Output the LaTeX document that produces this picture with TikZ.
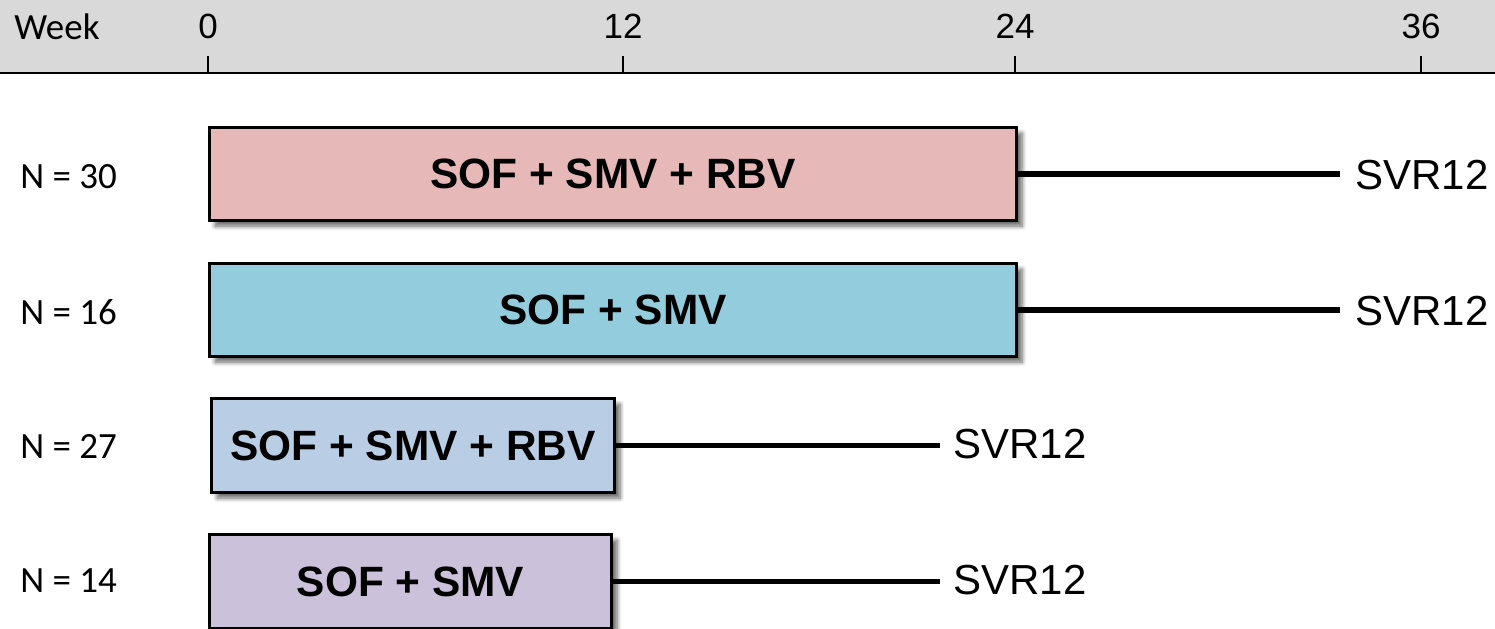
\documentclass[tikz,border=0pt]{standalone}
\usepackage{fontspec}
\setmainfont{Liberation Sans}
\newfontfamily\calfont{Carlito}
\usetikzlibrary{shadows.blur}
\definecolor{hdrgray}{HTML}{D9D9D9}
\definecolor{cpink}{HTML}{E6B8B7}
\definecolor{cteal}{HTML}{93CDDD}
\definecolor{cblue}{HTML}{B9CDE5}
\definecolor{clav}{HTML}{CCC1DA}
\tikzset{
  armbox/.style={draw=black, line width=1.5pt, anchor=north west, inner sep=0pt,
    font=\fontsize{21.2}{24}\selectfont\bfseries,
    blur shadow={shadow xshift=2.8pt, shadow yshift=-2.8pt, shadow blur steps=6, shadow opacity=60}},
  svr/.style={anchor=west, inner sep=0pt, font=\fontsize{21}{24}\selectfont},
  nlab/.style={anchor=base west, inner sep=0pt, font=\calfont\fontsize{18.5}{20}\selectfont},
  wk/.style={anchor=base, inner sep=0pt, font=\fontsize{17.5}{20}\selectfont},
  conn/.style={line width=2.6pt},
  tick/.style={line width=1.1pt}
}
\begin{document}
\begin{tikzpicture}[x=0.5pt, y=-0.5pt]
\useasboundingbox (0,0) rectangle (1495,628);
% header
\fill[hdrgray] (0,0) rectangle (1495,73);
\draw[line width=1pt] (0,73) -- (1495,73);
\node[anchor=base west, inner sep=0pt, font=\calfont\fontsize{18.5}{20}\selectfont] (week) at (14,39) {Week};
\foreach \x/\l/\n in {208/0/w0, 623/12/w12, 1015/24/w24, 1421/36/w36}{
  \coordinate (\n t) at (\x,56);
  \coordinate (\n b) at (\x,73);
  \draw[tick] (\n t) -- (\n b);
  \node[wk] (\n) at (\x,38) {\l};
}
% arms
\node[armbox, fill=cpink, minimum width=403.5pt, minimum height=46.5pt] (b1) at (208,126) {SOF + SMV + RBV};
\node[armbox, fill=cteal, minimum width=403.5pt, minimum height=46.5pt] (b2) at (208,262) {SOF + SMV};
\node[armbox, fill=cblue, minimum width=201.5pt, minimum height=47pt] (b3) at (210,397) {SOF + SMV + RBV};
\node[armbox, fill=clav, minimum width=201pt, minimum height=47pt] (b4) at (208,533) {SOF + SMV};
% SVR labels
\node[svr] (s1) at (1355,175) {SVR12};
\node[svr] (s2) at (1355,311) {SVR12};
\node[svr] (s3) at (953,444) {SVR12};
\node[svr] (s4) at (953,580) {SVR12};
\coordinate (e1) at (1340,0);
\coordinate (e3) at (940,0);
\draw[conn] (b1.east) -- (b1.east -| e1);
\draw[conn] (b2.east) -- (b2.east -| e1);
\draw[conn] (b3.east) -- (b3.east -| e3);
\draw[conn] (b4.east) -- (b4.east -| e3);
% N labels
\node[nlab] (n1) at (20,188) {N = 30};
\node[nlab] (n2) at (20,324) {N = 16};
\node[nlab] (n3) at (20,458) {N = 27};
\node[nlab] (n4) at (20,592) {N = 14};
\end{tikzpicture}
\end{document}
